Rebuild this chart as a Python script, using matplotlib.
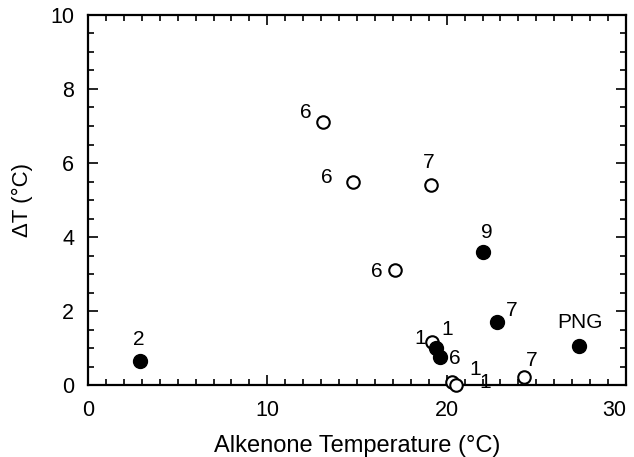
import numpy as np
import matplotlib.pyplot as plt
from matplotlib.ticker import MultipleLocator

plt.rcParams['font.family'] = ['Liberation Sans', 'DejaVu Sans']

# open circles
open_x = [13.1, 14.8, 19.1, 17.1, 19.2, 20.3, 20.5, 24.3]
open_y = [7.1, 5.5, 5.4, 3.1, 1.15, 0.07, 0.0, 0.22]
open_lab = ['6', '6', '7', '6', '1', '1', '1', '7']
# filled circles
fill_x = [2.9, 22.0, 19.4, 19.6, 22.8, 27.4]
fill_y = [0.65, 3.6, 1.0, 0.75, 1.7, 1.05]
fill_lab = ['2', '9', '1', '6', '7', 'PNG']

x_ticks = [0, 10, 20, 30]
y_ticks = [0, 2, 4, 6, 8, 10]

# label offsets in points (dx, dy)
open_off = [(-12, 7), (-19, 3), (-1, 16.5), (-13, -1), (-9, 3), (17, 9), (21, 1.5), (5.5, 11.5)]
fill_off = [(-1, 15.5), (3.3, 14), (8, 13), (11, -1), (10.4, 8.4), (0.7, 17)]

fig = plt.figure(figsize=(6.34, 4.57), dpi=100)
ax = fig.add_axes([0.1388, 0.1575, 0.8486, 0.8097])

ax.plot(open_x, open_y, 'o', ms=9, mfc='white', mec='black', mew=1.5, ls='none', clip_on=False, zorder=3)
ax.plot(fill_x, fill_y, 'o', ms=10, mfc='black', mec='black', ls='none', clip_on=False, zorder=3)

for x, y, t, (dx, dy) in zip(open_x, open_y, open_lab, open_off):
    ax.annotate(t, (x, y), xytext=(dx, dy), textcoords='offset points',
                ha='center', va='center', fontsize=15, annotation_clip=False)
for x, y, t, (dx, dy) in zip(fill_x, fill_y, fill_lab, fill_off):
    ax.annotate(t, (x, y), xytext=(dx, dy), textcoords='offset points',
                ha='center', va='center', fontsize=15, annotation_clip=False)

ax.set_xticks(x_ticks)
ax.set_yticks(y_ticks)
ax.set_xlim(0, 30)
ax.set_ylim(0, 10)
ax.xaxis.set_minor_locator(MultipleLocator(1))
ax.yaxis.set_minor_locator(MultipleLocator(0.5))
ax.tick_params(which='both', direction='in', top=True, right=True, width=1.2, labelsize=15.5)
ax.tick_params(which='major', length=7.5)
ax.tick_params(which='minor', length=4.5)
ax.tick_params(axis='x', which='major', pad=11)
ax.tick_params(axis='y', which='major', pad=10)
for s in ax.spines.values():
    s.set_linewidth(1.6)

ax.set_xlabel('Alkenone Temperature (°C)', fontsize=17)
ax.set_ylabel('ΔT (°C)', fontsize=16)
ax.xaxis.set_label_coords(0.5, -0.135)
ax.yaxis.set_label_coords(-0.102, 0.5)

# last x tick label sits just inside the figure edge
ax.xaxis.get_major_ticks()[-1].label1.set_horizontalalignment('right')

fig.savefig('out.png', dpi=100)
